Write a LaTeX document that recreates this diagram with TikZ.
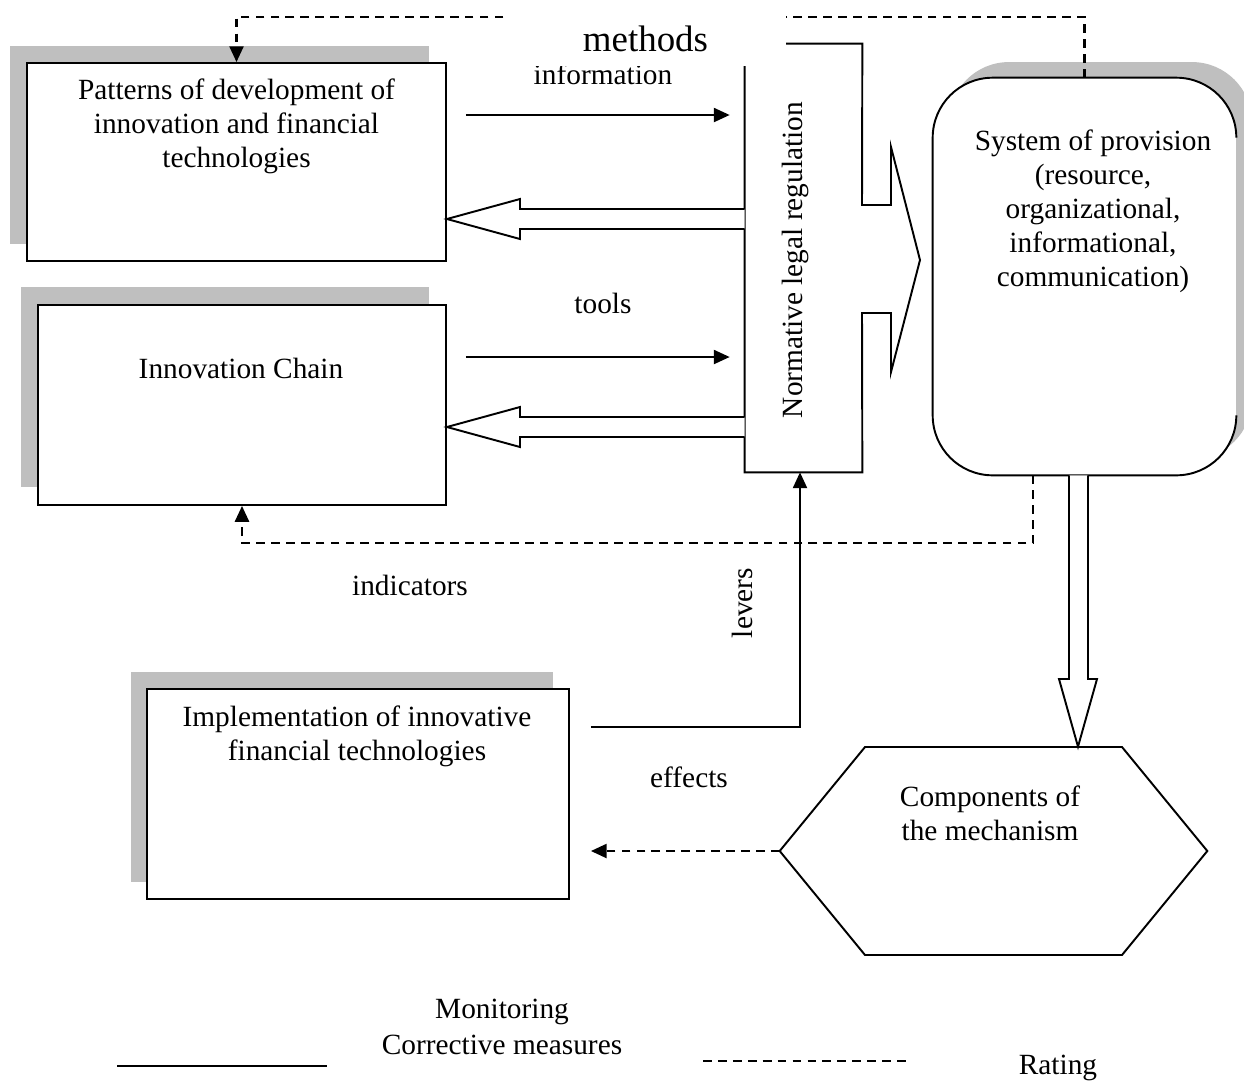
\documentclass[tikz,border=0pt]{standalone}
\usepackage{fontspec}
\setmainfont{Liberation Serif}
\usetikzlibrary{arrows.meta,shadows}
\definecolor{shgray}{HTML}{BFBFBF}
\tikzset{
  box/.style={draw, line width=1.1pt, fill=white, inner sep=0pt},
  ln/.style={line width=1.1pt},
  dsh/.style={line width=1.3pt, dash pattern=on 5pt off 3.5pt},
  arr/.style={-{Triangle[length=9pt,width=8pt]}},
  txt/.style={font=\fontsize{16.7}{19.3}\selectfont, align=center, inner sep=0pt},
}
\begin{document}
\begin{tikzpicture}[x=0.02cm, y=-0.02cm]
\useasboundingbox (0,0) rectangle (1244,1080);

% boxes with shadows
\node[box, minimum width=8.38cm, minimum height=3.96cm,
  general shadow={fill=shgray, shadow xshift=-0.34cm, shadow yshift=0.34cm}] (P) at (236.5,162) {};
\node[box, minimum width=8.16cm, minimum height=4cm,
  general shadow={fill=shgray, shadow xshift=-0.34cm, shadow yshift=0.36cm}] (IC) at (242,405) {};
\node[box, minimum width=8.45cm, minimum height=4.2cm,
  general shadow={fill=shgray, shadow xshift=-0.32cm, shadow yshift=0.34cm}] (IM) at (357.75,794) {};
\node[fill=white, rounded corners=1.2cm, inner sep=0pt, minimum width=6.06cm, minimum height=7.94cm,
  general shadow={fill=shgray, shadow xshift=0.32cm, shadow yshift=0.32cm}] (S) at (1084.5,276.5) {};
\draw[ln, rounded corners=1.2cm] ([yshift=-1.2cm]S.north east) -- (S.north east) -- (S.north west)
  -- (S.south west) -- (S.south east) -- ([yshift=1.2cm]S.south east);

% normative legal regulation shape
\node[inner sep=0pt, minimum width=2.34cm, minimum height=8.56cm] (N) at (803.5,258) {};
\draw[ln, fill=white] (N.south west) -- (N.north west) -- (N.north east) -- (862,205) -- (891,205)
  -- (891,147) -- (920,260) -- (891,372) -- (891,313) -- (862,313) -- (N.south east) -- cycle;
\node[txt, rotate=90] (Nt) at (795,260) {Normative legal regulation};

% hexagon
\node[inner sep=0pt, minimum width=8.54cm, minimum height=4.16cm] (H) at (993.5,851) {};
\draw[ln] (H.west) -- (865,747) -- (1122,747) -- (H.east) -- (1122,955) -- (865,955) -- cycle;

% texts in boxes
\node[txt] (Pt) at (236.5,126) {Patterns of development of\\innovation and financial\\technologies};
\node[txt] (ICt) at (241,368) {Innovation Chain};
\node[txt] (IMt) at (357,736) {Implementation of innovative\\financial technologies};
\node[txt] (St) at (1093,211) {System of provision\\(resource,\\organizational,\\informational,\\communication)};
\node[txt] (Ht) at (990,813) {Components of\\the mechanism};

% thin arrows
\draw[ln, arr, shorten <=0.38cm, shorten >=0.3cm] (P.east |- 0,115) -- (N.west |- 0,115);
\draw[ln, arr, shorten <=0.38cm, shorten >=0.3cm] (IC.east |- 0,357) -- (N.west |- 0,357);

% hollow arrows back
\draw[ln, fill=white] (N.west |- 0,209) -- (520,209) -- (520,199) -- (P.east |- 0,219)
  -- (520,239) -- (520,229) -- (N.west |- 0,229);
\draw[ln, fill=white] (N.west |- 0,417) -- (520,417) -- (520,407) -- (IC.east |- 0,427)
  -- (520,447) -- (520,437) -- (N.west |- 0,437);

% hollow arrow down
\draw[ln, fill=white] (S.south -| 1069,0) -- (1069,679) -- (1059,679) -- (H.north -| 1078,0)
  -- (1097,679) -- (1088,679) -- (S.south -| 1088,0);

% levers
\draw[ln, arr, shorten <=0.42cm] (IM.east |- 0,727) -| ([xshift=-0.07cm]N.south);
\node[txt, rotate=90] (lev) at (742,603) {levers};

% dashed connectors
\draw[dsh, arr] ([xshift=-1.03cm]S.south) -- ++(0,68) -| (IC.south);
\draw[dsh, arr] (S.north) -- ++(0,-61) -| (P.north);
\draw[dsh, arr, shorten >=0.42cm] (H.west) -- (IM.east |- H.west);

% labels
\node[txt] (tools) at (603,303) {tools};
\node[txt] (ind) at (410,585) {indicators};
\node[txt] (eff) at (689,777) {effects};
\node[txt] (info) at (603,74) {information};
\node[fill=white, inner sep=0pt, minimum width=5.62cm, minimum height=1.08cm,
  font=\fontsize{21}{24}\selectfont] (M) at (645.5,39) {methods};

% legend
\coordinate (la) at (117,1066);
\coordinate (lb) at (327,1066);
\coordinate (lc) at (703,1061);
\coordinate (ld) at (910,1061);
\draw[ln] (la) -- (lb);
\draw[dsh] (lc) -- (ld);
\node[txt] (mon) at (502,1012) {Monitoring};
\node[txt] (cor) at (502,1045) {Corrective measures};
\node[txt] (rat) at (1058,1068) {Rating};
\end{tikzpicture}
\end{document}
